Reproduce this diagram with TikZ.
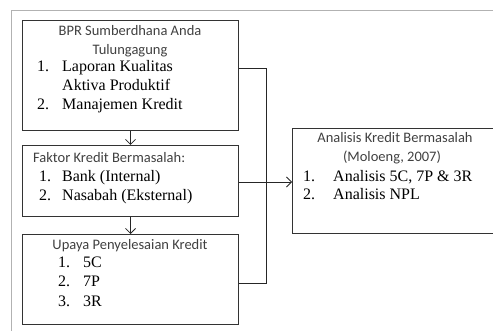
\documentclass[tikz,border=0pt]{standalone}
\usepackage{fontspec}
\setmainfont{Liberation Serif}
\newfontfamily\headfont{Carlito}
\usetikzlibrary{arrows.meta}

\tikzset{
  box/.style={draw=black!80, line width=1pt, inner sep=0pt, anchor=north west},
  head/.style={font=\headfont\fontsize{14.5}{16}\selectfont, text=black!75, inner sep=0pt, anchor=base},
  item/.style={font=\fontsize{16}{18}\selectfont, text=black, inner sep=0pt, anchor=base west},
  link/.style={draw=black!85, line width=.8pt},
}

\begin{document}
\begin{tikzpicture}[x=1pt, y=-1pt]
  \useasboundingbox (0,0) rectangle (493,331);
  % frame
  \draw[black!30, line width=.9pt] (11,331) -- (11,10) -- (493,10);

  % boxes
  \node[box, minimum width=216pt, minimum height=110pt] (bpr) at (22,20) {};
  \node[box, minimum width=216pt, minimum height=71pt] (faktor) at (22,145) {};
  \node[box, minimum width=216pt, minimum height=90pt] (upaya) at (22,234) {};
  \node[box, minimum width=210pt, minimum height=105pt] (analisis) at (292,128) {};

  % box 1
  \node[head] (bprA) at (130,36) {BPR Sumberdhana Anda};
  \node[head] (bprB) at (130,55) {Tulungagung};
  \node[item] (bprN1) at (37,72) {1.};
  \node[item] (bprT1) at (62,72) {Laporan Kualitas};
  \node[item] (bprT1b) at (62,91) {Aktiva Produktif};
  \node[item] (bprN2) at (37,110) {2.};
  \node[item] (bprT2) at (62,110) {Manajemen Kredit};

  % box 2
  \node[head, anchor=base west] (faktorA) at (33,163) {Faktor Kredit Bermasalah:};
  \node[item] (faktorN1) at (39,182) {1.};
  \node[item] (faktorT1) at (62,182) {Bank (Internal)};
  \node[item] (faktorN2) at (39,201) {2.};
  \node[item] (faktorT2) at (62,201) {Nasabah (Eksternal)};

  % box 3
  \node[head] (upayaA) at (130,250) {Upaya Penyelesaian Kredit};
  \node[item] (upayaN1) at (58,268) {1.};
  \node[item] (upayaT1) at (83,268) {5C};
  \node[item] (upayaN2) at (58,287) {2.};
  \node[item] (upayaT2) at (83,287) {7P};
  \node[item] (upayaN3) at (58,306) {3.};
  \node[item] (upayaT3) at (83,306) {3R};

  % box 4
  \node[head] (analisisA) at (395,143) {Analisis Kredit Bermasalah};
  \node[head] (analisisB) at (392,162) {(Moloeng, 2007)};
  \node[item] (analisisN1) at (303,182) {1.};
  \node[item] (analisisT1) at (333,182) {Analisis 5C, 7P \& 3R};
  \node[item] (analisisN2) at (303,200) {2.};
  \node[item] (analisisT2) at (333,200) {Analisis NPL};

  % connectors
  \coordinate (top) at (266,68);
  \coordinate (mid) at (266,182);
  \coordinate (bot) at (266,283);
  \draw[link, -{Straight Barb[length=5pt, width=10pt]}] (bpr) -- (faktor);
  \draw[link, -{Straight Barb[length=5pt, width=10pt]}] (faktor) -- (upaya);
  \draw[link] (bpr.east |- top) -- (top) -- (bot) -- (upaya.east |- bot);
  \draw[link] (faktor.east |- mid) -- (mid);
  \draw[link, -{Straight Barb[length=5pt, width=10pt]}] (mid) -- (analisis.west |- mid);
\end{tikzpicture}
\end{document}
